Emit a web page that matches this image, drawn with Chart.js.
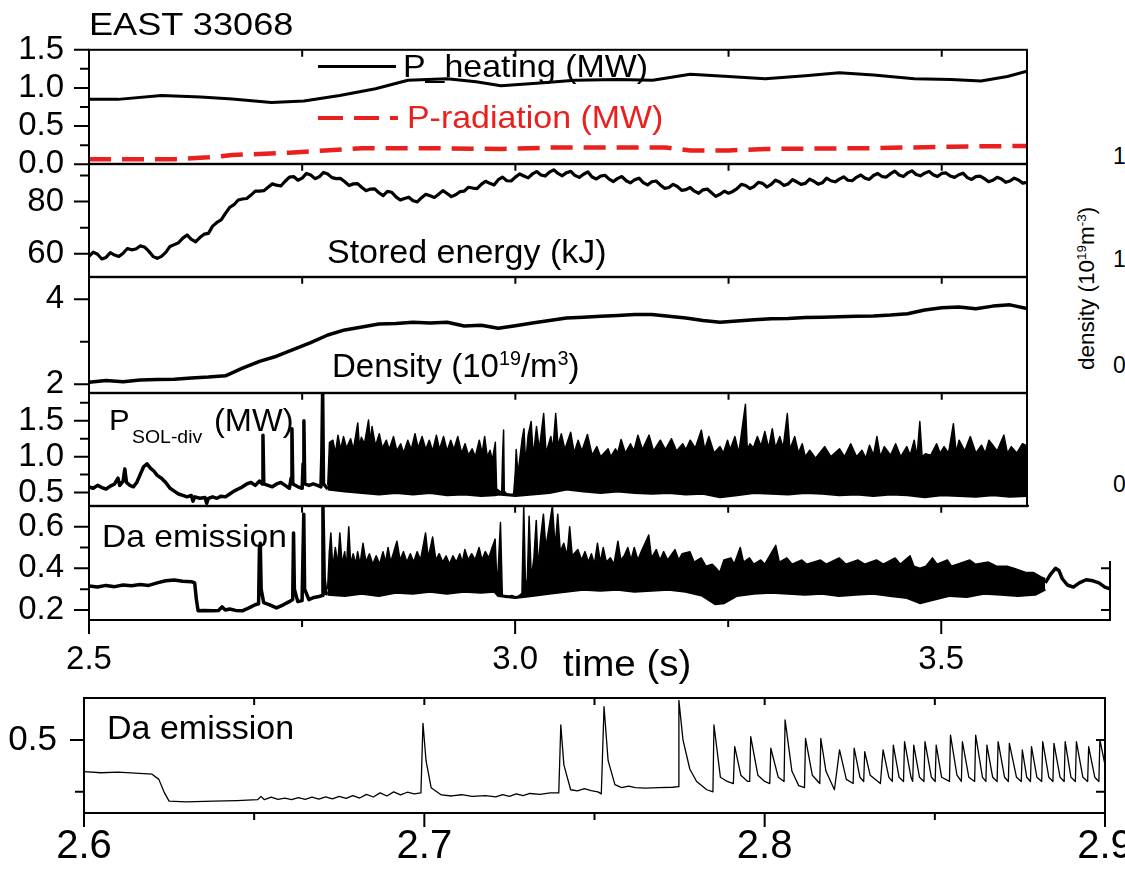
<!DOCTYPE html>
<html>
<head>
<meta charset="utf-8">
<script src="https://cdn.jsdelivr.net/npm/chart.js@4.4.1/dist/chart.umd.min.js"></script>
<style>
  html, body { margin: 0; padding: 0; background: #fff; }
  #page { position: relative; width: 1125px; height: 869px; overflow: hidden; background: #fff;
          font-family: 'Liberation Sans', Arial, Helvetica, sans-serif; }
  canvas { z-index: 1; }
  .ov { position: absolute; background: #fff; z-index: 2; }
  .t { position: absolute; white-space: nowrap; line-height: 1; transform-origin: 0 0; z-index: 3; color: #000; }
  .t sup { font-size: 0.6em; line-height: 0; position: relative; top: -0.6em; vertical-align: baseline; }
  .smp { position: absolute; z-index: 3; }
</style>
</head>
<body>
<div id="page">
  <div class="ov" style="left:1029px;top:0;width:96px;height:561px;"></div>

  <div class="t" style="left:89px;top:7.9px;font-size:32px;transform:scaleX(1.13)">EAST 33068</div>

  <div class="smp" style="left:318px;top:65.2px;width:78px;height:3px;background:#000;"></div>
  <div class="t" style="left:403px;top:50.4px;font-size:32px;transform:scaleX(1.06)">P_heating (MW)</div>
  <div class="smp" style="left:318px;top:115.5px;width:80px;height:4.5px;background:repeating-linear-gradient(to right,#e8201e 0 25px,transparent 25px 36px);"></div>
  <div class="t" style="left:407px;top:101.2px;font-size:32px;color:#e8201e;transform:scaleX(1.06)">P-radiation (MW)</div>

  <div class="t" style="left:327px;top:235.4px;font-size:33px;transform:scaleX(1.03)">Stored energy (kJ)</div>
  <div class="t" style="left:332px;top:348.8px;font-size:33px;">Density (10<sup>19</sup>/m<sup>3</sup>)</div>

  <div class="t" style="left:109px;top:404.6px;font-size:30px;transform:scaleX(1.03)">P</div>
  <div class="t" style="left:132px;top:428.1px;font-size:18px;transform:scaleX(1.08)">SOL-div</div>
  <div class="t" style="left:214px;top:404.8px;font-size:31px;transform:scaleX(1.05)">(MW)</div>

  <div class="t" style="left:102px;top:520.2px;font-size:32px;transform:scaleX(1.05)">Da emission</div>
  <div class="t" style="left:563px;top:646.2px;font-size:36px;transform:scaleX(1.07)">time (s)</div>
  <div class="t" style="left:107px;top:709.5px;font-size:34px;">Da emission</div>

  <div class="t" style="left:1076px;top:370px;font-size:22.5px;transform:rotate(-90deg)">density (10<sup>19</sup>m<sup>-3</sup>)</div>
  <div class="t" style="left:1113px;top:145px;font-size:23px;">1</div>
  <div class="t" style="left:1113px;top:248px;font-size:23px;">1</div>
  <div class="t" style="left:1113px;top:354px;font-size:23px;">0</div>
  <div class="t" style="left:1113px;top:473px;font-size:23px;">0</div>
</div>

<script>
// ---- data ----
const heatT = [2.5, 2.534, 2.585, 2.631, 2.668, 2.714, 2.752, 2.794, 2.836, 2.874, 2.92, 2.954, 2.983, 3.025,
               3.07, 3.12, 3.161, 3.205, 3.25, 3.293, 3.34, 3.38, 3.42, 3.468, 3.511, 3.546, 3.577, 3.6];
const heatV = [0.85, 0.85, 0.9, 0.88, 0.855, 0.81, 0.83, 0.9, 0.99, 1.1, 1.12, 1.08, 1.03, 1.06,
               1.1, 1.11, 1.1, 1.18, 1.15, 1.12, 1.16, 1.2, 1.17, 1.12, 1.11, 1.09, 1.15, 1.22];

const radT = [2.5, 2.6, 2.64, 2.668, 2.7, 2.735, 2.777, 2.82, 2.9, 2.983, 3.05, 3.114, 3.176, 3.205, 3.25, 3.293, 3.42, 3.51, 3.6];
const radV = [0.066, 0.066, 0.09, 0.12, 0.135, 0.15, 0.18, 0.21, 0.21, 0.2, 0.22, 0.22, 0.22, 0.18, 0.18, 0.2, 0.21, 0.23, 0.24];

// stored energy (kJ), sampled every 5 ms from 2.500 s
const energyV = [
  59.0, 60.6, 59.8, 58.0, 58.6, 60.4, 59.5, 58.9, 60.2, 62.0,
  61.5, 61.8, 63.0, 62.6, 61.0, 59.0, 58.2, 59.0, 60.5, 62.8,
  63.5, 64.2, 66.0, 67.2, 65.5, 64.6, 66.2, 67.5, 67.8, 70.6,
  72.0, 73.0, 75.5, 77.8, 78.8, 80.6, 81.0, 81.2, 82.5, 84.0,
  84.0, 84.2, 85.5, 86.8, 86.3, 86.0, 87.8, 89.4, 89.6, 88.2,
  89.0, 90.8, 90.2, 88.8, 89.5, 91.2, 90.6, 89.2, 88.8, 88.9,
  87.6, 86.2, 86.8, 86.9, 85.4, 84.2, 84.8, 84.9, 83.4, 82.3,
  83.9, 83.6, 81.8, 80.6, 81.2, 81.7, 80.3, 79.9, 81.5, 82.8,
  82.2, 81.6, 82.8, 84.2, 83.1, 81.9, 82.6, 83.8, 84.0, 85.5,
  85.2, 85.0, 86.6, 87.8, 87.0, 86.4, 88.4, 89.4, 88.0, 87.9,
  89.4, 90.6, 89.8, 89.1, 90.6, 91.5, 90.2, 89.8, 91.3, 92.2,
  90.8, 89.9, 91.1, 91.6, 90.0, 89.3, 90.5, 91.4, 89.4, 88.7,
  89.8, 90.1, 88.6, 87.7, 88.9, 89.6, 88.0, 87.2, 88.4, 89.0,
  87.3, 86.4, 87.6, 87.9, 86.4, 85.1, 85.4, 86.6, 85.8, 84.3,
  84.6, 85.4, 84.0, 83.2, 84.5, 84.8, 83.4, 82.0, 82.8, 84.0,
  83.2, 83.9, 85.0, 86.6, 86.2, 85.0, 85.8, 87.4, 87.0, 85.6,
  86.6, 88.2, 87.5, 86.2, 86.8, 88.4, 87.6, 86.6, 87.0, 88.6,
  87.8, 86.7, 87.2, 89.0, 88.0, 87.6, 88.6, 89.5, 88.2, 88.0,
  89.3, 90.2, 89.0, 88.5, 90.0, 90.8, 89.6, 89.4, 90.7, 91.7,
  90.2, 89.6, 91.0, 91.8, 90.4, 89.9, 90.9, 91.6, 90.3, 89.6,
  90.8, 91.0, 89.8, 89.3, 90.3, 90.9, 89.2, 88.5, 89.6, 89.8,
  88.8, 87.6, 88.2, 89.3, 88.7, 87.4, 87.9, 89.0, 88.3, 87.1,
  87.4];

// density (1e19 m^-3), sampled every 20 ms from 2.50 s
const densityV = [
  2.05, 2.09, 2.06, 2.10, 2.11, 2.12, 2.15, 2.17, 2.20, 2.38,
  2.54, 2.66, 2.82, 2.98, 3.16, 3.28, 3.35, 3.42, 3.43, 3.46,
  3.44, 3.46, 3.37, 3.39, 3.32, 3.38, 3.44, 3.50, 3.56, 3.58,
  3.60, 3.62, 3.64, 3.64, 3.60, 3.56, 3.50, 3.46, 3.49, 3.52,
  3.54, 3.55, 3.57, 3.58, 3.59, 3.60, 3.61, 3.63, 3.66, 3.75,
  3.80, 3.82, 3.78, 3.84, 3.87, 3.78];

// P_SOL-div before the dense ELM phase
const psolEarly = [[2.500,0.58],[2.505,0.56],[2.510,0.60],[2.515,0.57],[2.520,0.55],[2.525,0.59],[2.530,0.62],[2.534,0.70],
  [2.536,0.60],[2.540,0.66],[2.542,0.83],[2.544,0.64],[2.548,0.60],[2.552,0.58],[2.556,0.64],[2.560,0.75],[2.564,0.86],
  [2.568,0.90],[2.572,0.84],[2.576,0.80],[2.580,0.74],[2.585,0.70],[2.590,0.64],[2.595,0.56],[2.600,0.52],[2.605,0.48],
  [2.610,0.46],[2.615,0.44],[2.620,0.46],[2.622,0.38],[2.624,0.44],[2.630,0.42],[2.636,0.43],[2.638,0.35],[2.640,0.42],
  [2.645,0.44],[2.650,0.42],[2.655,0.45],[2.660,0.44],[2.665,0.48],[2.670,0.52],[2.675,0.55],[2.680,0.58],[2.685,0.62],
  [2.690,0.64],[2.695,0.60],[2.700,0.66],[2.703,0.62],[2.704,1.30],[2.705,0.62],[2.710,0.60],[2.715,0.58],[2.720,0.62],
  [2.725,0.64],[2.730,0.60],[2.735,0.56],[2.737,0.70],[2.738,1.39],[2.739,0.62],[2.745,0.58],[2.750,0.56],[2.751,0.90],
  [2.752,1.50],[2.753,0.62],[2.758,0.60],[2.763,0.62],[2.768,0.60],[2.772,0.58],[2.773,1.00],[2.774,1.95],[2.775,0.62],
  [2.778,0.58],[2.780,0.55]];
// upper and lower edge of the dense ELM band
const psolUpper = [[2.780,0.60],[2.782,1.20],[2.786,1.23],[2.789,1.05],[2.792,1.30],[2.795,1.10],[2.7985,1.28],[2.802,1.12],
  [2.8068,1.25],[2.810,1.10],[2.8152,1.47],[2.817,1.15],[2.8194,1.27],[2.823,1.18],[2.8278,1.51],[2.830,1.20],[2.8319,1.42],
  [2.836,1.15],[2.8404,1.32],[2.844,1.12],[2.8487,1.23],[2.852,1.10],[2.8571,1.28],[2.861,1.08],[2.8655,1.18],[2.869,1.05],
  [2.8738,1.23],[2.878,1.10],[2.8823,1.32],[2.886,1.12],[2.8906,1.28],[2.895,1.10],[2.899,1.23],[2.903,1.08],[2.9074,1.30],
  [2.911,1.10],[2.9158,1.28],[2.920,1.08],[2.9242,1.23],[2.928,1.10],[2.9325,1.28],[2.937,1.05],[2.941,1.18],[2.945,1.02],
  [2.9493,1.11],[2.953,1.00],[2.9577,1.23],[2.961,1.05],[2.964,1.28],[2.967,1.00],[2.9703,1.09],[2.973,0.95],[2.9765,1.20],
  [2.978,0.55],[2.984,0.50],[2.985,1.00],[2.9862,1.37],[2.987,0.52],[2.990,0.48],[2.994,0.47],[2.998,0.48],[3.000,0.80],
  [3.001,1.10],[3.003,0.75],[3.008,1.25],[3.0101,1.39],[3.012,0.90],[3.015,1.30],[3.0185,1.49],[3.021,1.00],[3.0248,1.42],
  [3.028,1.10],[3.0332,1.60],[3.036,1.05],[3.0416,1.28],[3.044,1.10],[3.0473,1.60],[3.050,1.15],[3.0539,1.32],[3.058,1.10],
  [3.0649,1.34],[3.069,1.05],[3.0736,1.23],[3.078,1.08],[3.0845,1.31],[3.090,1.02],[3.0955,1.14],[3.100,1.00],[3.1087,1.11],
  [3.112,1.00],[3.1174,1.11],[3.120,1.05],[3.124,1.24],[3.129,1.05],[3.135,1.18],[3.139,1.08],[3.1437,1.30],[3.149,1.10],
  [3.1568,1.30],[3.162,1.08],[3.170,1.23],[3.176,1.10],[3.1831,1.25],[3.189,1.08],[3.1963,1.18],[3.200,1.10],[3.2051,1.23],
  [3.211,1.12],[3.2181,1.37],[3.222,1.10],[3.2269,1.28],[3.233,1.05],[3.240,1.14],[3.244,1.05],[3.2488,1.23],[3.252,1.10],
  [3.2575,1.28],[3.262,1.05],[3.2698,1.73],[3.272,1.10],[3.2751,1.18],[3.279,1.12],[3.2838,1.28],[3.288,1.15],[3.2926,1.35],
  [3.297,1.12],[3.3013,1.39],[3.305,1.12],[3.3101,1.28],[3.314,1.12],[3.3189,1.60],[3.322,1.10],[3.3276,1.28],[3.332,1.05],
  [3.3364,1.18],[3.340,1.00],[3.3452,1.09],[3.352,0.98],[3.3627,1.14],[3.370,1.00],[3.3802,1.11],[3.386,1.00],[3.3933,1.18],
  [3.400,1.00],[3.4065,1.09],[3.411,0.98],[3.4153,1.16],[3.420,1.02],[3.424,1.28],[3.428,1.00],[3.4327,1.14],[3.440,1.02],
  [3.4459,1.18],[3.452,1.00],[3.459,1.14],[3.463,1.02],[3.4677,1.23],[3.471,1.00],[3.4743,1.49],[3.477,1.00],[3.4809,1.04],
  [3.487,1.02],[3.494,1.18],[3.498,1.05],[3.5028,1.14],[3.508,1.05],[3.5137,1.46],[3.517,1.05],[3.5203,1.23],[3.527,1.08],
  [3.5335,1.28],[3.540,1.05],[3.5466,1.16],[3.551,1.05],[3.5554,1.23],[3.565,1.08],[3.5729,1.30],[3.577,1.05],[3.5816,1.14],
  [3.588,1.05],[3.5947,1.18],[3.600,1.15]];
const psolLower = [[2.780,0.55],[2.80,0.52],[2.82,0.50],[2.84,0.48],[2.86,0.50],[2.88,0.48],[2.90,0.50],[2.92,0.47],[2.94,0.48],
  [2.96,0.46],[2.976,0.47],[2.98,0.48],[3.00,0.46],[3.02,0.48],[3.04,0.50],[3.06,0.55],[3.08,0.52],[3.10,0.50],[3.12,0.52],
  [3.14,0.50],[3.16,0.49],[3.18,0.50],[3.20,0.48],[3.22,0.49],[3.24,0.44],[3.26,0.47],[3.28,0.50],[3.30,0.49],[3.32,0.48],
  [3.34,0.50],[3.36,0.49],[3.38,0.47],[3.40,0.48],[3.42,0.46],[3.44,0.48],[3.46,0.47],[3.48,0.44],[3.50,0.47],[3.52,0.46],
  [3.54,0.45],[3.56,0.47],[3.58,0.45],[3.60,0.46]];

// D-alpha emission, full time range
const daEarly = [[2.500,0.315],[2.510,0.31],[2.520,0.318],[2.530,0.312],[2.540,0.32],[2.550,0.316],[2.560,0.322],[2.570,0.318],
  [2.580,0.33],[2.590,0.34],[2.600,0.344],[2.610,0.338],[2.620,0.336],[2.624,0.33],[2.626,0.25],[2.628,0.196],[2.635,0.198],
  [2.645,0.196],[2.652,0.198],[2.656,0.215],[2.660,0.20],[2.665,0.205],[2.672,0.198],[2.680,0.196],[2.685,0.205],[2.690,0.215],
  [2.695,0.225],[2.699,0.23],[2.700,0.50],[2.701,0.52],[2.702,0.30],[2.705,0.235],[2.712,0.225],[2.720,0.21],[2.728,0.225],
  [2.735,0.24],[2.739,0.25],[2.740,0.57],[2.741,0.30],[2.745,0.24],[2.750,0.245],[2.752,0.66],[2.753,0.30],[2.758,0.25],
  [2.764,0.26],[2.770,0.265],[2.774,0.27],[2.7745,0.70],[2.776,0.35],[2.778,0.28],[2.780,0.275]];
const daUpper = [[2.780,0.30],[2.782,0.48],[2.7838,0.57],[2.786,0.40],[2.789,0.50],[2.792,0.42],[2.7943,0.57],[2.797,0.42],
  [2.800,0.48],[2.802,0.40],[2.8048,0.60],[2.807,0.42],[2.810,0.47],[2.813,0.42],[2.8152,0.48],[2.818,0.42],[2.8215,0.52],
  [2.825,0.43],[2.829,0.47],[2.833,0.42],[2.837,0.46],[2.841,0.42],[2.845,0.48],[2.848,0.43],[2.8509,0.50],[2.854,0.43],
  [2.857,0.47],[2.8613,0.53],[2.865,0.44],[2.869,0.48],[2.873,0.43],[2.877,0.47],[2.881,0.43],[2.885,0.48],[2.889,0.44],
  [2.8949,0.57],[2.898,0.45],[2.9032,0.55],[2.907,0.44],[2.911,0.47],[2.915,0.43],[2.919,0.46],[2.923,0.42],[2.927,0.46],
  [2.931,0.43],[2.935,0.47],[2.938,0.43],[2.941,0.49],[2.945,0.44],[2.949,0.47],[2.953,0.44],[2.9577,0.50],[2.961,0.44],
  [2.965,0.48],[2.969,0.45],[2.973,0.50],[2.9765,0.54],[2.979,0.30],[2.9828,0.62],[2.985,0.27],[2.990,0.26],[2.996,0.27],
  [3.002,0.26],[3.008,0.28],[3.0101,0.70],[3.012,0.35],[3.014,0.30],[3.0164,0.65],[3.019,0.35],[3.022,0.45],[3.0248,0.63],
  [3.027,0.40],[3.030,0.55],[3.0332,0.66],[3.036,0.50],[3.040,0.60],[3.0437,0.70],[3.047,0.50],[3.050,0.66],[3.053,0.48],
  [3.057,0.52],[3.061,0.46],[3.064,0.60],[3.067,0.46],[3.0736,0.49],[3.078,0.44],[3.082,0.48],[3.086,0.43],[3.0895,0.47],
  [3.093,0.42],[3.0966,0.52],[3.100,0.43],[3.1034,0.50],[3.107,0.43],[3.1118,0.45],[3.116,0.42],[3.1206,0.53],[3.124,0.44],
  [3.128,0.46],[3.1322,0.50],[3.136,0.44],[3.1398,0.50],[3.144,0.44],[3.148,0.48],[3.1568,0.56],[3.160,0.45],[3.1656,0.49],
  [3.170,0.44],[3.1743,0.48],[3.179,0.44],[3.1875,0.49],[3.192,0.44],[3.196,0.47],[3.2050,0.48],[3.210,0.43],[3.2182,0.45],
  [3.224,0.41],[3.2313,0.42],[3.236,0.40],[3.2400,0.38],[3.245,0.44],[3.2532,0.45],[3.257,0.42],[3.2641,0.50],[3.268,0.43],
  [3.2750,0.45],[3.280,0.42],[3.2882,0.44],[3.293,0.42],[3.3058,0.51],[3.310,0.43],[3.3189,0.45],[3.325,0.42],[3.3364,0.44],
  [3.342,0.42],[3.3583,0.44],[3.365,0.42],[3.3802,0.45],[3.388,0.42],[3.4021,0.44],[3.410,0.42],[3.424,0.44],[3.432,0.42],
  [3.4459,0.45],[3.452,0.42],[3.4634,0.46],[3.468,0.41],[3.475,0.40],[3.482,0.41],[3.4897,0.45],[3.495,0.42],[3.5072,0.44],
  [3.512,0.41],[3.5335,0.44],[3.540,0.42],[3.5554,0.43],[3.565,0.41],[3.5773,0.41],[3.585,0.40],[3.5992,0.38],[3.608,0.38],
  [3.6167,0.36],[3.622,0.35]];
const daLower = [[2.780,0.275],[2.80,0.27],[2.82,0.28],[2.84,0.27],[2.86,0.285],[2.88,0.28],[2.90,0.29],[2.92,0.28],[2.94,0.29],
  [2.96,0.285],[2.976,0.29],[2.98,0.27],[3.00,0.26],[3.02,0.27],[3.04,0.28],[3.06,0.29],[3.08,0.30],[3.10,0.295],[3.12,0.30],
  [3.14,0.29],[3.16,0.295],[3.18,0.30],[3.20,0.29],[3.22,0.27],[3.235,0.23],[3.245,0.235],[3.26,0.27],[3.28,0.28],[3.30,0.285],
  [3.32,0.28],[3.34,0.275],[3.36,0.28],[3.38,0.27],[3.40,0.275],[3.42,0.28],[3.44,0.27],[3.46,0.26],[3.475,0.235],[3.49,0.25],
  [3.51,0.27],[3.53,0.265],[3.55,0.28],[3.57,0.275],[3.59,0.27],[3.61,0.275],[3.622,0.30]];
const daTail = [[3.622,0.33],[3.628,0.37],[3.634,0.40],[3.638,0.39],[3.642,0.35],[3.648,0.32],[3.655,0.31],[3.662,0.33],
  [3.670,0.345],[3.678,0.34],[3.685,0.33],[3.692,0.31],[3.699,0.30]];

// D-alpha emission, zoom 2.6 - 2.9 s
const daZoom = [[2.600,0.347],[2.605,0.342],[2.610,0.345],[2.615,0.340],[2.620,0.335],[2.622,0.31],[2.6235,0.25],[2.625,0.205],
  [2.630,0.202],[2.638,0.205],[2.645,0.208],[2.651,0.212],[2.652,0.228],[2.653,0.212],[2.655,0.224],[2.657,0.214],[2.659,0.22],
  [2.661,0.212],[2.663,0.222],[2.665,0.214],[2.667,0.225],[2.669,0.215],[2.671,0.226],[2.673,0.216],[2.675,0.228],[2.677,0.218],
  [2.679,0.232],[2.681,0.22],[2.683,0.238],[2.685,0.225],[2.687,0.245],[2.689,0.23],[2.691,0.25],[2.693,0.235],[2.695,0.248],
  [2.697,0.24],[2.699,0.245],[2.6996,0.58],[2.7005,0.40],[2.702,0.27],[2.705,0.235],[2.708,0.23],[2.711,0.236],[2.714,0.228],
  [2.718,0.232],[2.721,0.226],[2.723,0.236],[2.725,0.228],[2.727,0.24],[2.729,0.232],[2.731,0.242],[2.734,0.238],[2.737,0.245],
  [2.7395,0.245],[2.7401,0.572],[2.741,0.38],[2.743,0.26],[2.745,0.255],[2.747,0.265],[2.749,0.256],[2.751,0.25],[2.752,0.24],
  [2.7528,0.66],[2.754,0.40],[2.756,0.285],[2.758,0.27],[2.760,0.278],[2.762,0.27],[2.765,0.268],[2.769,0.27],[2.773,0.272],
  [2.7746,0.275],[2.7748,0.69],[2.776,0.50],[2.778,0.36],[2.780,0.30],[2.783,0.26],[2.7848,0.25],[2.7851,0.572],[2.787,0.32],
  [2.789,0.30],[2.7908,0.29],[2.7912,0.468],[2.793,0.33],[2.795,0.30],[2.7956,0.30],[2.7959,0.516],[2.798,0.33],[2.800,0.30],
  [2.8015,0.29],[2.8018,0.46],[2.804,0.32],[2.8057,0.30],[2.806,0.597],[2.808,0.35],[2.810,0.28],[2.8117,0.27],[2.812,0.507],
  [2.814,0.33],[2.8162,0.29],[2.8165,0.507],[2.818,0.35],[2.8205,0.26],[2.822,0.452],[2.824,0.31],[2.826,0.29],[2.8263,0.46],
  [2.828,0.32],[2.8291,0.30],[2.8294,0.443],[2.831,0.33],[2.834,0.29],[2.8348,0.452],[2.8365,0.32],[2.8375,0.30],[2.8378,0.475],
  [2.8395,0.32],[2.8408,0.30],[2.8411,0.492],[2.843,0.32],[2.8435,0.30],[2.8438,0.475],[2.8455,0.32],[2.8468,0.30],[2.8471,0.492],
  [2.849,0.32],[2.8501,0.30],[2.8504,0.475],[2.852,0.32],[2.8543,0.30],[2.8546,0.523],[2.8565,0.33],[2.8578,0.30],[2.8581,0.492],
  [2.860,0.32],[2.8617,0.30],[2.862,0.523],[2.864,0.32],[2.865,0.30],[2.8653,0.475],[2.867,0.32],[2.8683,0.30],[2.8686,0.492],
  [2.8705,0.32],[2.8716,0.30],[2.8719,0.483],[2.874,0.32],[2.8754,0.30],[2.8757,0.452],[2.877,0.32],[2.8781,0.30],[2.8784,0.468],
  [2.880,0.32],[2.8814,0.30],[2.8817,0.492],[2.8835,0.32],[2.8847,0.30],[2.885,0.483],[2.8868,0.32],[2.888,0.30],[2.8883,0.492],
  [2.890,0.32],[2.8913,0.30],[2.8916,0.492],[2.8935,0.32],[2.8949,0.30],[2.8952,0.468],[2.897,0.32],[2.8982,0.30],[2.8985,0.50],
  [2.900,0.38]];

// tick labels
const timeTicks = [2.5, 3.0, 3.5];
const zoomTimeTicks = [2.6, 2.7, 2.8, 2.9];
const heatTicks = [0, 0.5, 1.0, 1.5];
const energyTicks = [60, 80];
const densityTicks = [2, 4];
const psolTicks = [0.5, 1.0, 1.5];
const daTicks = [0.2, 0.4, 0.6];
const daZoomTicks = [0.5];

// ---- drawing ----
const FONT = "'Liberation Sans', Arial, Helvetica, sans-serif";
const RED = '#e8201e';
const page = document.getElementById('page');
const energyT = energyV.map((v, i) => 2.5 + i * 0.005);
const densityT = densityV.map((v, i) => 2.5 + i * 0.02);
const xy = (t, v) => t.map((x, i) => ({ x: x, y: v[i] }));
const pairs = arr => arr.map(p => ({ x: p[0], y: p[1] }));

function trace(data, extra) {
  return Object.assign({
    data: data, borderColor: '#000', borderWidth: 3, pointRadius: 0,
    fill: false, tension: 0, borderJoinStyle: 'round'
  }, extra || {});
}

// frame box and tick marks, placed with the chart's own scales
function framePlugin(f) {
  return {
    id: 'frame',
    afterDatasetsDraw(chart) {
      const ctx = chart.ctx, a = chart.chartArea;
      const x = chart.scales.x, y = chart.scales.y;
      ctx.save();
      ctx.strokeStyle = '#000';
      ctx.lineWidth = 2;
      ctx.strokeRect(a.left, a.top, a.right - a.left, a.bottom - a.top);
      ctx.beginPath();
      const seg = (x1, y1, x2, y2) => { ctx.moveTo(x1, y1); ctx.lineTo(x2, y2); };
      (f.yMajor || []).forEach(v => { const p = y.getPixelForValue(v); seg(a.left - (f.yMajorLen || 15), p, a.left, p); });
      (f.yMinor || []).forEach(v => { const p = y.getPixelForValue(v); seg(a.left - 9, p, a.left, p); });
      (f.top || []).forEach(v => { const p = x.getPixelForValue(v); seg(p, a.top, p, a.top + 7); });
      (f.bottomMajor || []).forEach(v => { const p = x.getPixelForValue(v); seg(p, a.bottom, p, a.bottom + 14); });
      (f.bottomMinor || []).forEach(v => { const p = x.getPixelForValue(v); seg(p, a.bottom, p, a.bottom + 7); });
      (f.right || []).forEach(v => { const p = y.getPixelForValue(v); seg(a.right - 9, p, a.right, p); });
      ctx.stroke();
      ctx.restore();
    }
  };
}

function buildChart(p, adj) {
  const padT = 25, padB = p.xTicks ? 0 : 25, padR = p.padR || 8;
  const xh = p.xTicks ? p.xAxisHeight : 0;
  const w = Math.ceil(p.right + padR);
  const h = Math.round((p.bottom - p.top) + padT + padB + xh + adj.top + adj.bottom);
  const cv = document.createElement('canvas');
  cv.width = w; cv.height = h;
  cv.style.cssText = 'position:absolute;left:0;top:' + (p.top - padT - adj.top) + 'px;width:' + w + 'px;height:' + h + 'px;';
  page.appendChild(cv);
  const chart = new Chart(cv, {
    type: 'line',
    data: { datasets: p.datasets },
    options: {
      responsive: false,
      animation: false,
      events: [],
      layout: { padding: { top: padT, bottom: padB, left: 0, right: w - p.right } },
      plugins: { legend: { display: false }, tooltip: { enabled: false } },
      scales: {
        x: {
          type: 'linear', min: p.xMin, max: p.xMax, position: 'bottom', display: !!p.xTicks,
          grid: { display: false, drawTicks: false }, border: { display: false },
          afterBuildTicks: s => { if (p.xTicks) s.ticks = p.xTicks.map(v => ({ value: v })); },
          afterFit: s => { s.height = xh; },
          ticks: { font: { family: FONT, size: p.xFont }, color: '#000', padding: p.xPad,
                   maxRotation: 0, autoSkip: false, callback: v => v.toFixed(1) }
        },
        y: {
          type: 'linear', min: p.yMin, max: p.yMax, position: 'left',
          grid: { display: false, drawTicks: false }, border: { display: false },
          afterBuildTicks: s => { s.ticks = p.yTicks.map(v => ({ value: v })); },
          afterFit: s => { s.width = p.left; },
          ticks: { font: { family: FONT, size: p.yFont || 33 }, color: '#000', padding: p.yPad || 25,
                   autoSkip: false, callback: v => p.yFmt(v) }
        }
      }
    },
    plugins: [framePlugin(p.frame)]
  });
  return { chart: chart, canvas: cv, top: p.top - padT - adj.top };
}

// build once, measure where the plot box landed, rebuild so it sits on the reference frame
function makePanel(p) {
  let b = buildChart(p, { top: 0, bottom: 0 });
  const a = b.chart.chartArea;
  const extraTop = (b.top + a.top) - p.top;
  const extraBottom = p.bottom - (b.top + a.bottom);
  if (Math.abs(extraTop) > 0.3 || Math.abs(extraBottom) > 0.3) {
    b.chart.destroy();
    b.canvas.remove();
    b = buildChart(p, { top: extraTop, bottom: extraBottom });
  }
}

const topTicks = [2.75, 3.0, 3.25, 3.5];
const one = v => v.toFixed(1);
const whole = v => String(v);

makePanel({
  top: 49.3, bottom: 163.3, left: 89, right: 1027, xMin: 2.5, xMax: 3.6, yMin: 0, yMax: 1.5,
  yTicks: heatTicks, yFmt: one,
  frame: { yMajor: heatTicks, yMinor: [0.25, 0.75, 1.25], top: topTicks },
  datasets: [
    trace(xy(heatT, heatV), { borderWidth: 3 }),
    trace(xy(radT, radV), { borderColor: RED, borderWidth: 4.5, borderDash: [22, 11], borderJoinStyle: 'miter' })
  ]
});

makePanel({
  top: 163.3, bottom: 276.7, left: 89, right: 1027, xMin: 2.5, xMax: 3.6, yMin: 51.0, yMax: 94.5,
  yTicks: energyTicks, yFmt: whole,
  frame: { yMajor: energyTicks, yMinor: [70, 90], top: topTicks },
  datasets: [trace(xy(energyT, energyV), { borderWidth: 3.2 })]
});

makePanel({
  top: 276.7, bottom: 392.7, left: 89, right: 1027, xMin: 2.5, xMax: 3.6, yMin: 1.79, yMax: 4.53,
  yTicks: densityTicks, yFmt: whole,
  frame: { yMajor: densityTicks, yMinor: [3], top: topTicks },
  datasets: [trace(xy(densityT, densityV), { borderWidth: 3.5 })]
});

makePanel({
  top: 392.7, bottom: 506, left: 89, right: 1027, xMin: 2.5, xMax: 3.6, yMin: 0.31, yMax: 1.89,
  yTicks: psolTicks, yFmt: one,
  frame: { yMajor: psolTicks, yMinor: [0.75, 1.25, 1.75], top: topTicks },
  datasets: [
    trace(pairs(psolEarly), { borderWidth: 3.5 }),
    trace(pairs(psolUpper), { borderWidth: 1.5, fill: '+1', backgroundColor: '#000' }),
    trace(pairs(psolLower), { borderWidth: 3 })
  ]
});

makePanel({
  top: 506, bottom: 620, left: 89, right: 1110, xMin: 2.5, xMax: 3.698, yMin: 0.152, yMax: 0.70,
  yTicks: daTicks, yFmt: one,
  xTicks: timeTicks, xFont: 33, xPad: 20, xAxisHeight: 60,
  frame: { yMajor: daTicks, yMinor: [0.3, 0.5], top: topTicks, bottomMajor: timeTicks, bottomMinor: [2.75, 3.25], right: [0.2, 0.4] },
  datasets: [
    trace(pairs(daEarly), { borderWidth: 3.5 }),
    trace(pairs(daUpper), { borderWidth: 1.5, fill: '+1', backgroundColor: '#000' }),
    trace(pairs(daLower), { borderWidth: 3 }),
    trace(pairs(daTail), { borderWidth: 3.5 })
  ]
});

makePanel({
  top: 698.3, bottom: 812.7, left: 84, right: 1105, padR: 45, xMin: 2.6, xMax: 2.9, yMin: 0.148, yMax: 0.702,
  yTicks: daZoomTicks, yFmt: one, yFont: 35, yPad: 27,
  xTicks: zoomTimeTicks, xFont: 40, xPad: 10, xAxisHeight: 60,
  frame: { yMajor: daZoomTicks, yMajorLen: 14, yMinor: [0.25], top: [2.65, 2.7, 2.75, 2.8, 2.85],
           bottomMajor: zoomTimeTicks, bottomMinor: [2.65, 2.75, 2.85], right: [0.25, 0.5] },
  datasets: [trace(pairs(daZoom), { borderWidth: 1.3 })]
});
</script>
</body>
</html>
